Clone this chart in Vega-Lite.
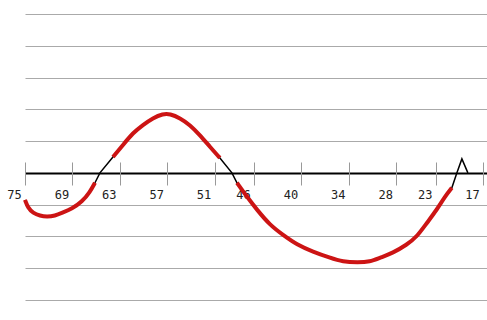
{
  "$schema": "https://vega.github.io/schema/vega-lite/v6.json",
  "width": 462,
  "height": 286,
  "autosize": {"type": "none"},
  "padding": {"left": 25, "top": 14, "right": 0, "bottom": 20},
  "background": "white",
  "config": {"view": {"stroke": null}},
  "data": {
    "values": [
      {"x": 75.0, "y": -0.85, "seg": 1},
      {"x": 74.62, "y": -1.10, "seg": 1},
      {"x": 73.99, "y": -1.26, "seg": 1},
      {"x": 73.10, "y": -1.35, "seg": 1},
      {"x": 72.22, "y": -1.38, "seg": 1},
      {"x": 71.20, "y": -1.35, "seg": 1},
      {"x": 70.32, "y": -1.26, "seg": 1},
      {"x": 69.05, "y": -1.13, "seg": 1},
      {"x": 67.78, "y": -0.91, "seg": 1},
      {"x": 66.77, "y": -0.60, "seg": 1},
      {"x": 66.14, "y": -0.31, "seg": 1},
      {"x": 65.51, "y": 0.0, "seg": 0},
      {"x": 63.86, "y": 0.50, "seg": 2},
      {"x": 62.59, "y": 0.88, "seg": 2},
      {"x": 61.33, "y": 1.26, "seg": 2},
      {"x": 60.06, "y": 1.51, "seg": 2},
      {"x": 58.80, "y": 1.73, "seg": 2},
      {"x": 57.53, "y": 1.86, "seg": 2},
      {"x": 56.65, "y": 1.86, "seg": 2},
      {"x": 55.38, "y": 1.73, "seg": 2},
      {"x": 54.11, "y": 1.51, "seg": 2},
      {"x": 52.85, "y": 1.19, "seg": 2},
      {"x": 51.58, "y": 0.82, "seg": 2},
      {"x": 50.32, "y": 0.47, "seg": 2},
      {"x": 48.80, "y": 0.0, "seg": 0},
      {"x": 48.16, "y": -0.31, "seg": 3},
      {"x": 46.90, "y": -0.75, "seg": 3},
      {"x": 45.63, "y": -1.16, "seg": 3},
      {"x": 43.99, "y": -1.64, "seg": 3},
      {"x": 42.34, "y": -1.95, "seg": 3},
      {"x": 40.57, "y": -2.26, "seg": 3},
      {"x": 38.54, "y": -2.48, "seg": 3},
      {"x": 36.39, "y": -2.67, "seg": 3},
      {"x": 34.75, "y": -2.80, "seg": 3},
      {"x": 32.85, "y": -2.82, "seg": 3},
      {"x": 31.33, "y": -2.80, "seg": 3},
      {"x": 30.06, "y": -2.67, "seg": 3},
      {"x": 28.42, "y": -2.52, "seg": 3},
      {"x": 26.65, "y": -2.26, "seg": 3},
      {"x": 25.38, "y": -2.01, "seg": 3},
      {"x": 24.11, "y": -1.57, "seg": 3},
      {"x": 22.85, "y": -1.16, "seg": 3},
      {"x": 21.84, "y": -0.75, "seg": 3},
      {"x": 20.95, "y": -0.47, "seg": 3},
      {"x": 20.32, "y": 0.0, "seg": 0},
      {"x": 19.68, "y": 0.44, "seg": 0},
      {"x": 18.92, "y": 0.0, "seg": 0}
    ]
  },
  "encoding": {
    "x": {
      "field": "x",
      "type": "quantitative",
      "scale": {"domain": [16.5, 75], "reverse": true, "nice": false, "zero": false},
      "axis": {
        "title": null,
        "orient": "bottom",
        "offset": -138,
        "domain": false,
        "grid": false,
        "values": [75, 69, 63, 57, 51, 46, 40, 34, 28, 23, 17],
        "tickSize": 23,
        "tickColor": "#999999",
        "tickWidth": 1,
        "labelPadding": 4,
        "labelOffset": -11,
        "labelFont": "DejaVu Sans Mono",
        "labelFontSize": 12,
        "labelColor": "#222222",
        "labelOverlap": false,
        "labelFlush": false
      }
    },
    "y": {
      "field": "y",
      "type": "quantitative",
      "scale": {"domain": [-4, 5], "nice": false, "zero": false},
      "axis": {
        "title": null,
        "domain": false,
        "ticks": false,
        "labels": false,
        "values": [-4, -3, -2, -1, 0, 1, 2, 3, 4, 5],
        "grid": true,
        "gridColor": {"condition": {"test": "datum.value === 0", "value": "#000000"}, "value": "#aaaaaa"},
        "gridWidth": {"condition": {"test": "datum.value === 0", "value": 2}, "value": 1.2},
        "gridOpacity": 1
      }
    }
  },
  "layer": [
    {
      "mark": {"type": "line", "color": "#000000", "strokeWidth": 1.5}
    },
    {
      "transform": [{"filter": "datum.seg > 0"}],
      "mark": {"type": "line", "color": "#cc1414", "strokeWidth": 4, "interpolate": "basis"},
      "encoding": {"detail": {"field": "seg", "type": "nominal"}}
    }
  ]
}
